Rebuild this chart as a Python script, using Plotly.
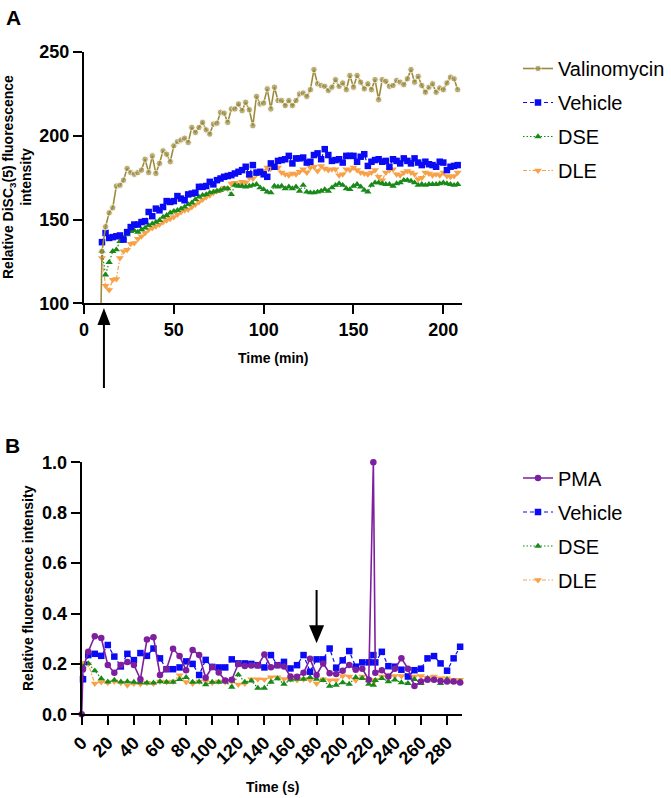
import plotly.graph_objects as go

# ---------------- Panel A data (time in min) ----------------
time_a_base = [9.5]
time_a = list(range(10, 209, 2))

valinomycin = [100,
    131, 145.7, 154, 157, 170, 170.5, 173.5, 180.5, 178, 177,
    178, 179.5, 186, 178, 188, 177.5, 183.5, 191, 189, 184.5,
    194, 196.5, 197.5, 198.5, 196, 205, 202, 205, 208, 203.5,
    201, 207, 207.5, 214, 213.5, 208, 216, 216, 219, 215,
    220, 215.5, 206, 223.5, 219, 219.5, 228, 216, 229, 221,
    221, 218, 221, 218, 221, 225, 225.5, 223.5, 227.5, 239.5,
    231, 230, 229.5, 227, 229, 233.5, 229.5, 231.5, 227.5, 236,
    229, 236, 232, 228, 231, 227.5, 233.5, 221.5, 233.5, 232.5,
    229.5, 230, 233, 232, 230.5, 234, 239.5, 232, 235.5, 230,
    226, 229, 231, 226, 228.5, 227.5, 231.5, 235, 234, 227.5]

vehicle_a = [
    136.5, 142, 139, 139.5, 140, 140.5, 138, 142.5, 145.5, 147,
    147, 148.5, 149, 154.5, 152, 156.5, 155.5, 157.5, 161, 160.5,
    161, 164, 162.5, 161.5, 165, 165.5, 166, 169.5, 169.5, 170,
    172.5, 171, 173.5, 174.5, 175.5, 176, 176.5, 177.5, 178.5, 179.5,
    181.5, 177, 182.5, 178, 178.5, 177, 175.5, 183.5, 181.5, 185,
    185.5, 186, 188, 183.5, 186.5, 186.5, 187, 184, 184.5, 188.5,
    189.5, 186, 192, 188.5, 185, 185.5, 186, 184, 188, 188,
    188, 184.5, 187.5, 189, 182, 184.5, 185.5, 186, 184.5, 185,
    181.5, 186, 185, 183.5, 186.5, 185, 183.5, 186.5, 184, 182.5,
    184.5, 183, 182.5, 181.5, 184.5, 184, 179.5, 181.5, 182, 182.5]

dse_a = [
    131, 117, 124.5, 131, 132, 137, 139, 141, 143, 143.5,
    142.5, 144, 145, 146.5, 147.5, 148.5, 149.5, 151.5, 152.5, 154,
    155, 155.5, 156.5, 157.5, 159, 160, 162, 163.5, 164.5, 165,
    166, 166.5, 167, 167.5, 168.5, 168.5, 165, 170.5, 170, 170,
    169.5, 170, 170.5, 171, 169, 168, 166.5, 166, 170, 169.5,
    170, 168.5, 169.5, 168.5, 169.5, 167, 170.5, 166.5, 166, 166,
    166.5, 167, 168, 167, 169, 170.5, 171.5, 170.5, 168.5, 168,
    170, 171, 169.5, 167.5, 166.5, 170.5, 172, 172, 171.5, 171,
    171, 170, 171.5, 172, 173.5, 173.5, 173, 172, 170.5, 171,
    170.5, 171, 171, 171, 171.5, 172, 171.5, 171, 170.5, 171]

dle_a = [
    127, 110.5, 108, 114, 114.5, 127, 131, 132, 135.5, 136,
    138.5, 140, 142, 144, 145, 146, 147, 148.5, 149.5, 150.5,
    151.5, 153, 154.5, 155.5, 156, 157.5, 159, 160.5, 162, 163.5,
    164.5, 166, 167, 167.5, 169, 168.5, 171.5, 172, 171, 172.5,
    172, 175, 174.5, 177, 178, 179, 181, 180.5, 182, 181,
    178, 177, 176.5, 177.5, 177, 178.5, 180, 178, 181, 181.5,
    179, 182, 180.5, 179.5, 180, 180, 176.5, 177, 180, 179.5,
    181, 179.5, 178, 177.5, 177, 178, 179.5, 175.5, 173.5, 178,
    179.5, 180, 177, 176.5, 178, 179, 178, 177, 174, 175,
    178, 177.5, 176.5, 177, 176.5, 178, 176, 175.5, 176, 178]

# ---------------- Panel B data (time in s) ----------------
time_b = [1] + list(range(5, 221, 5)) + [223.5] + list(range(225, 291, 5))
time_b_pma = [0] + time_b

pma = [0, 0.18,
    0.248, 0.31, 0.303, 0.196, 0.165, 0.196, 0.208, 0.196, 0.139, 0.297,
    0.306, 0.156, 0.18, 0.26, 0.231, 0.175, 0.255, 0.235, 0.145, 0.188,
    0.166, 0.134, 0.137, 0.2, 0.192, 0.194, 0.194, 0.237, 0.187, 0.195,
    0.19, 0.15, 0.149, 0.165, 0.22, 0.156, 0.202, 0.163, 0.16, 0.173,
    0.196, 0.177, 0.181, 0.137, 1.0, 0.165, 0.175, 0.15, 0.181, 0.222,
    0.181, 0.112, 0.13, 0.137, 0.137, 0.132, 0.13, 0.13, 0.126]

vehicle_b = [
    0.139, 0.235, 0.24, 0.232, 0.275, 0.229, 0.19, 0.24, 0.215, 0.243,
    0.232, 0.261, 0.222, 0.179, 0.179, 0.186, 0.21, 0.2, 0.156, 0.216,
    0.188, 0.186, 0.186, 0.218, 0.202, 0.202, 0.2, 0.195, 0.186, 0.235,
    0.195, 0.208, 0.182, 0.195, 0.235, 0.169, 0.218, 0.218, 0.261, 0.185,
    0.214, 0.251, 0.189, 0.206, 0.206, 0.235, 0.206, 0.248, 0.191, 0.189,
    0.177, 0.15, 0.175, 0.181, 0.222, 0.231, 0.202, 0.173, 0.222, 0.268]

dse_b = [
    0.19, 0.202, 0.173, 0.142, 0.129, 0.136, 0.129, 0.13, 0.128, 0.126,
    0.125, 0.125, 0.13, 0.128, 0.128, 0.139, 0.147, 0.128, 0.129, 0.118,
    0.128, 0.128, 0.13, 0.108, 0.157, 0.128, 0.133, 0.104, 0.104, 0.128,
    0.142, 0.12, 0.137, 0.14, 0.14, 0.147, 0.14, 0.135, 0.112, 0.116,
    0.126, 0.12, 0.147, 0.143, 0.12, 0.116, 0.135, 0.143, 0.13, 0.137,
    0.126, 0.123, 0.139, 0.123, 0.143, 0.137, 0.123, 0.139, 0.13, 0.13]

dle_b = [
    0.205, 0.2, 0.122, 0.128, 0.125, 0.13, 0.125, 0.115, 0.122, 0.12,
    0.125, 0.122, 0.13, 0.128, 0.13, 0.155, 0.128, 0.122, 0.13, 0.13,
    0.125, 0.13, 0.128, 0.13, 0.118, 0.122, 0.139, 0.139, 0.138, 0.147,
    0.147, 0.14, 0.139, 0.136, 0.139, 0.136, 0.122, 0.139, 0.135, 0.135,
    0.152, 0.15, 0.135, 0.15, 0.137, 0.135, 0.135, 0.15, 0.15, 0.152,
    0.152, 0.15, 0.15, 0.152, 0.146, 0.15, 0.143, 0.143, 0.137, 0.137]

ticks_a_x = [0, 50, 100, 150, 200]
ticks_a_y = [100, 150, 200, 250]
ticks_b_x = list(range(0, 281, 20))
ticks_b_y = [0.0, 0.2, 0.4, 0.6, 0.8, 1.0]

# arrows (time where the treatment was added)
arrow_a_time = 11.1
arrow_b_time = 180

# ---------------- styles ----------------
OLIVE = "#9C8B3E"
BLUE = "#0A0AF5"
GREEN = "#198A19"
ORANGE = "#F7A248"
PURPLE = "#7D1F9E"
FONT = "Liberation Sans, Arial, sans-serif"
W, H = 671, 798

fig = go.Figure()

def add(x, y, name, color, symbol, dash, lw, ms, xa, ya, leg, rank, sizes=None):
    fig.add_trace(go.Scatter(
        x=x, y=y, name=name, mode="lines+markers",
        line=dict(color=color, width=lw, dash=dash),
        marker=dict(color=color, symbol=symbol, size=sizes if sizes else ms),
        xaxis=xa, yaxis=ya, legend=leg, legendgroup=leg + name,
        legendrank=rank, cliponaxis=False,
    ))

# Panel A (valinomycin drawn last so it sits on top)
add(time_a, dle_a, "DLE", ORANGE, "triangle-down", "4px,2px,1.5px,2px", 1.2, 7, "x", "y", "legend", 4)
add(time_a, dse_a, "DSE", GREEN, "triangle-up", "1.5px,2px", 1.2, 6.5, "x", "y", "legend", 3)
add(time_a, vehicle_a, "Vehicle", BLUE, "square", "4px,3px", 1.2, 6.5, "x", "y", "legend", 2)
add(time_a_base + time_a, valinomycin, "Valinomycin", OLIVE, "circle", "solid", 1.6, 6.5,
    "x", "y", "legend", 1, sizes=[0] + [6.5] * len(time_a))

# Panel B
add(time_b, dle_b, "DLE", ORANGE, "triangle-down", "4px,2px,1.5px,2px", 1.2, 7, "x2", "y2", "legend2", 4)
add(time_b, dse_b, "DSE", GREEN, "triangle-up", "1.5px,2px", 1.2, 6.5, "x2", "y2", "legend2", 3)
add(time_b, vehicle_b, "Vehicle", BLUE, "square", "4px,3px", 1.2, 6.5, "x2", "y2", "legend2", 2)
add(time_b_pma, pma, "PMA", PURPLE, "circle", "solid", 1.6, 6.5, "x2", "y2", "legend2", 1)

def px_x(p):
    return p / W

def px_y(p):
    return 1 - p / H

axis_common = dict(
    showline=True, linewidth=2, linecolor="black", mirror=False,
    ticks="outside", ticklen=9, tickwidth=2, tickcolor="black",
    showgrid=False, zeroline=False,
    tickfont=dict(family=FONT, size=18, color="black", weight=700),
)

legend_common = dict(
    xanchor="left", yanchor="top", traceorder="grouped", tracegroupgap=5,
    font=dict(family=FONT, size=20, color="black"), bgcolor="rgba(0,0,0,0)",
)

fig.update_layout(
    width=W, height=H, autosize=False,
    margin=dict(l=0, r=0, t=0, b=0, autoexpand=False),
    paper_bgcolor="white", plot_bgcolor="white",
    font=dict(family=FONT, color="black"),
    xaxis=dict(domain=[px_x(84), px_x(462)], range=[0, 210.4], tickvals=ticks_a_x,
               anchor="y", **axis_common),
    yaxis=dict(domain=[px_y(303.3), px_y(52)], range=[100, 250], tickvals=ticks_a_y,
               anchor="x", **axis_common),
    xaxis2=dict(domain=[px_x(81.7), px_x(461.7)], range=[0, 291.2], tickvals=ticks_b_x,
                tickangle=-45, anchor="y2", **axis_common),
    yaxis2=dict(domain=[px_y(714.3), px_y(462.3)], range=[0, 1], tickvals=ticks_b_y,
                tickformat=".1f", anchor="x2", **axis_common),
    legend=dict(x=px_x(518), y=px_y(49), **legend_common),
    legend2=dict(x=px_x(518), y=px_y(458.5), **legend_common),
)

title_font = dict(family=FONT, size=14, color="black", weight=700)
ann = [
    dict(text="Relative DiSC<sub>3</sub>(5) fluorescence<br>intensity", textangle=-90,
         x=px_x(17), y=px_y(177), xref="paper", yref="paper",
         xanchor="center", yanchor="middle", showarrow=False, font=title_font),
    dict(text="Time (min)", x=px_x(273), y=px_y(358), xref="paper", yref="paper",
         xanchor="center", yanchor="middle", showarrow=False, font=title_font),
    dict(text="Relative fluorescence intensity", textangle=-90,
         x=px_x(28), y=px_y(588), xref="paper", yref="paper",
         xanchor="center", yanchor="middle", showarrow=False, font=title_font),
    dict(text="Time (s)", x=px_x(272), y=px_y(787), xref="paper", yref="paper",
         xanchor="center", yanchor="middle", showarrow=False, font=title_font),
    dict(text="A", x=px_x(13), y=px_y(18), xref="paper", yref="paper",
         xanchor="center", yanchor="middle", showarrow=False,
         font=dict(family=FONT, size=21, color="black", weight=700)),
    dict(text="B", x=px_x(12.5), y=px_y(445), xref="paper", yref="paper",
         xanchor="center", yanchor="middle", showarrow=False,
         font=dict(family=FONT, size=21, color="black", weight=700)),
]
fig.update_layout(annotations=ann)

# Arrows drawn as shapes (shaft + filled head)
shapes = [
    # Panel A: pointing up, below the x axis
    dict(type="line", xref="x", yref="paper", x0=arrow_a_time, x1=arrow_a_time,
         y0=px_y(388), y1=px_y(322), line=dict(color="black", width=2)),
    dict(type="path", xref="x", yref="paper", xsizemode="pixel", ysizemode="pixel",
         xanchor=arrow_a_time, yanchor=px_y(308),
         path="M0,0 L-6.5,-17 L6.5,-17 Z", fillcolor="black", line=dict(width=0)),
    # Panel B: pointing down
    dict(type="line", xref="x2", yref="paper", x0=arrow_b_time, x1=arrow_b_time,
         y0=px_y(590), y1=px_y(628), line=dict(color="black", width=2)),
    dict(type="path", xref="x2", yref="paper", xsizemode="pixel", ysizemode="pixel",
         xanchor=arrow_b_time, yanchor=px_y(643.3),
         path="M0,0 L-7.5,18 L7.5,18 Z", fillcolor="black", line=dict(width=0)),
]
fig.update_layout(shapes=shapes)

# Remove the browser's default 8px page margin so the figure sits at (0, 0)
fig.write_html("out.html", config={"displayModeBar": False},
               post_script="document.body.style.margin='0';document.body.style.padding='0';")
